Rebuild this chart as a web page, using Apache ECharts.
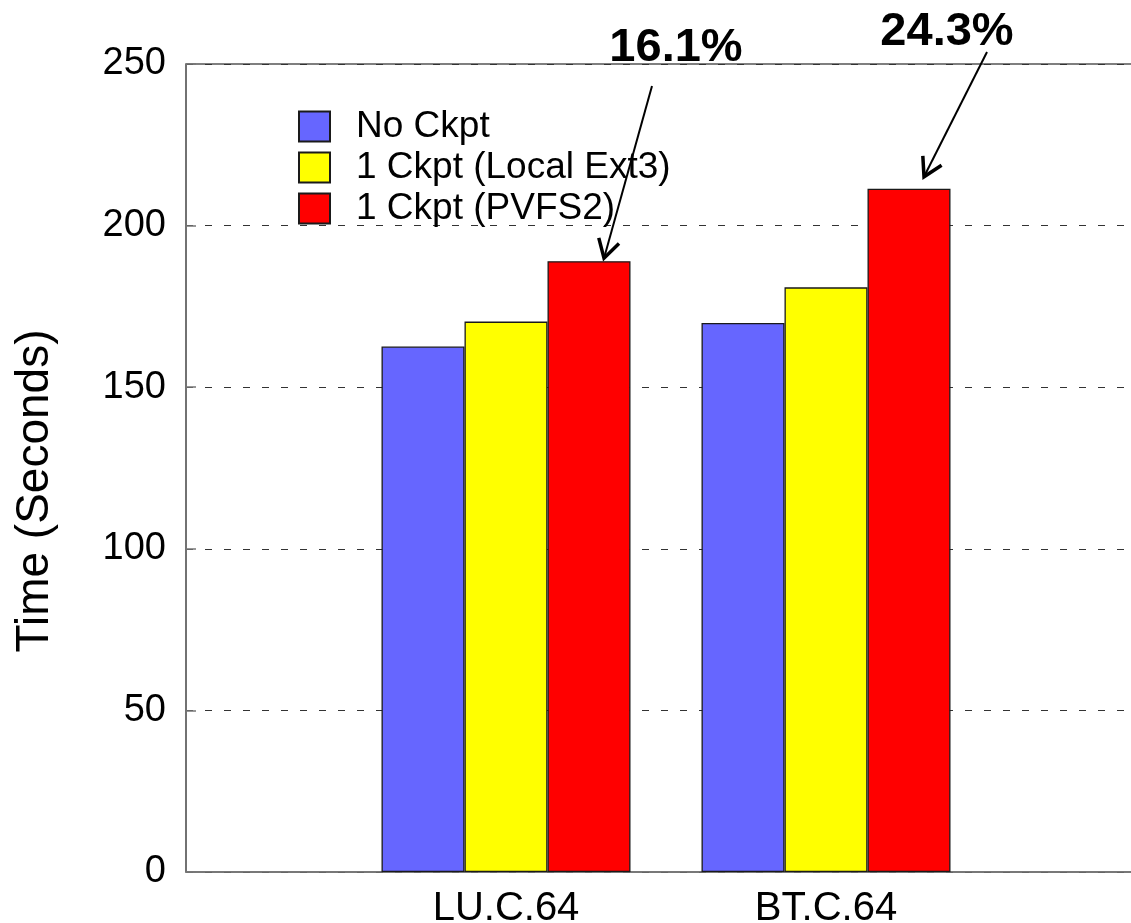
<!DOCTYPE html>
<html>
<head>
<meta charset="utf-8">
<title>Checkpoint overhead</title>
<script src="https://cdn.jsdelivr.net/npm/echarts@6/dist/echarts.min.js"></script>
<style>
  html, body { margin: 0; padding: 0; background: #fff; }
  #chart { width: 1131px; height: 923px; }
</style>
</head>
<body>
<div id="chart"></div>
<script>
// Benchmarks on the category axis
const categories = ['LU.C.64', 'BT.C.64'];
// Run times in seconds
const noCkpt = [162.6, 169.9];
const ckptExt3 = [170.3, 180.9];
const ckptPvfs2 = [189.0, 211.4];
// Overhead of PVFS2 checkpoint over the no-checkpoint run
const overheadLabels = ['16.1%', '24.3%'];
// Value axis range
const yMin = 0;
const yMax = 250;
const yStep = 50;

const FONT = '"Liberation Sans", Arial, Helvetica, sans-serif';
const BAR_W = 83;

// One empty slot on each side keeps the two groups away from the frame edges
const axisCats = [''].concat(categories, ['']);
const pad = arr => [null].concat(arr, [null]);

const chart = echarts.init(document.getElementById('chart'), null, { renderer: 'canvas' });

const barStyle = color => ({ color: color, borderColor: '#1a1a1a', borderWidth: 1.3 });

chart.setOption({
  animation: false,
  backgroundColor: '#ffffff',
  textStyle: { fontFamily: FONT },
  grid: {
    left: 186, top: 64, bottom: 51, right: -15,
    outerBoundsMode: 'none',
    containLabel: false,
    show: true, borderColor: '#000', borderWidth: 1.2, backgroundColor: 'transparent'
  },
  legend: {
    orient: 'vertical',
    left: 298, top: 108,
    padding: 0,
    itemWidth: 31, itemHeight: 30, itemGap: 4,
    icon: 'rect',
    selectedMode: false,
    textStyle: { fontFamily: FONT, fontSize: 37, color: '#000', lineHeight: 30, padding: [0, 0, 0, 21] },
    data: ['No Ckpt', '1 Ckpt (Local Ext3)', '1 Ckpt (PVFS2)']
  },
  xAxis: {
    type: 'category',
    data: axisCats,
    boundaryGap: false,
    axisLine: { lineStyle: { color: '#777', width: 1.5 } },
    axisTick: { show: false },
    axisLabel: { fontFamily: FONT, fontSize: 40, color: '#000', margin: 17, interval: 0 },
    splitLine: { show: false }
  },
  yAxis: {
    type: 'value',
    min: yMin, max: yMax, interval: yStep,
    name: 'Time (Seconds)',
    nameLocation: 'middle',
    nameGap: 128,
    nameTextStyle: { fontFamily: FONT, fontSize: 46, color: '#000', padding: [0, 46, 0, 0] },
    axisLine: { show: true, lineStyle: { color: '#777', width: 1.5 } },
    axisTick: { show: true, inside: true, length: 10, lineStyle: { color: '#777', width: 1.5 } },
    axisLabel: { fontFamily: FONT, fontSize: 38, color: '#000', margin: 20 },
    splitLine: { show: true, lineStyle: { color: '#333', width: 1.2, type: [7, 12] } }
  },
  series: [
    { name: 'No Ckpt', type: 'bar', barWidth: BAR_W, barGap: '0%', data: pad(noCkpt), itemStyle: barStyle('#6666ff') },
    { name: '1 Ckpt (Local Ext3)', type: 'bar', barWidth: BAR_W, barGap: '0%', data: pad(ckptExt3), itemStyle: barStyle('#ffff00') },
    { name: '1 Ckpt (PVFS2)', type: 'bar', barWidth: BAR_W, barGap: '0%', data: pad(ckptPvfs2), itemStyle: barStyle('#ff0000') }
  ]
});

// Overhead callouts: bold percentage with an arrow pointing at the PVFS2 bar
const callouts = [
  { text: [676, 48], start: [652, 86], tipDx: 15, tipLift: 3 },
  { text: [947, 32], start: [987, 52], tipDx: 15, tipLift: 12 }
];

function arrowShapes(from, to) {
  const ang = Math.atan2(from[1] - to[1], from[0] - to[0]);
  const len = 21, spread = Math.PI / 6;
  const w1 = [to[0] + len * Math.cos(ang - spread), to[1] + len * Math.sin(ang - spread)];
  const w2 = [to[0] + len * Math.cos(ang + spread), to[1] + len * Math.sin(ang + spread)];
  return [
    { type: 'line', shape: { x1: from[0], y1: from[1], x2: to[0], y2: to[1] }, style: { stroke: '#000', lineWidth: 2 }, z: 20 },
    { type: 'polyline', shape: { points: [w1, to, w2] }, style: { stroke: '#000', lineWidth: 3.5, fill: null, lineJoin: 'miter' }, z: 20 }
  ];
}

const graphics = [];
categories.forEach((cat, i) => {
  const p = chart.convertToPixel({ gridIndex: 0 }, [i + 1, ckptPvfs2[i]]);
  const c = callouts[i];
  const tip = [p[0] + BAR_W + c.tipDx, p[1] - c.tipLift];
  graphics.push({
    type: 'text', z: 20,
    style: {
      text: overheadLabels[i], x: c.text[0], y: c.text[1],
      align: 'center', verticalAlign: 'middle',
      font: 'bold 47px ' + FONT, fill: '#000'
    }
  });
  arrowShapes(c.start, tip).forEach(g => graphics.push(g));
});
chart.setOption({ graphic: graphics });
</script>
</body>
</html>
